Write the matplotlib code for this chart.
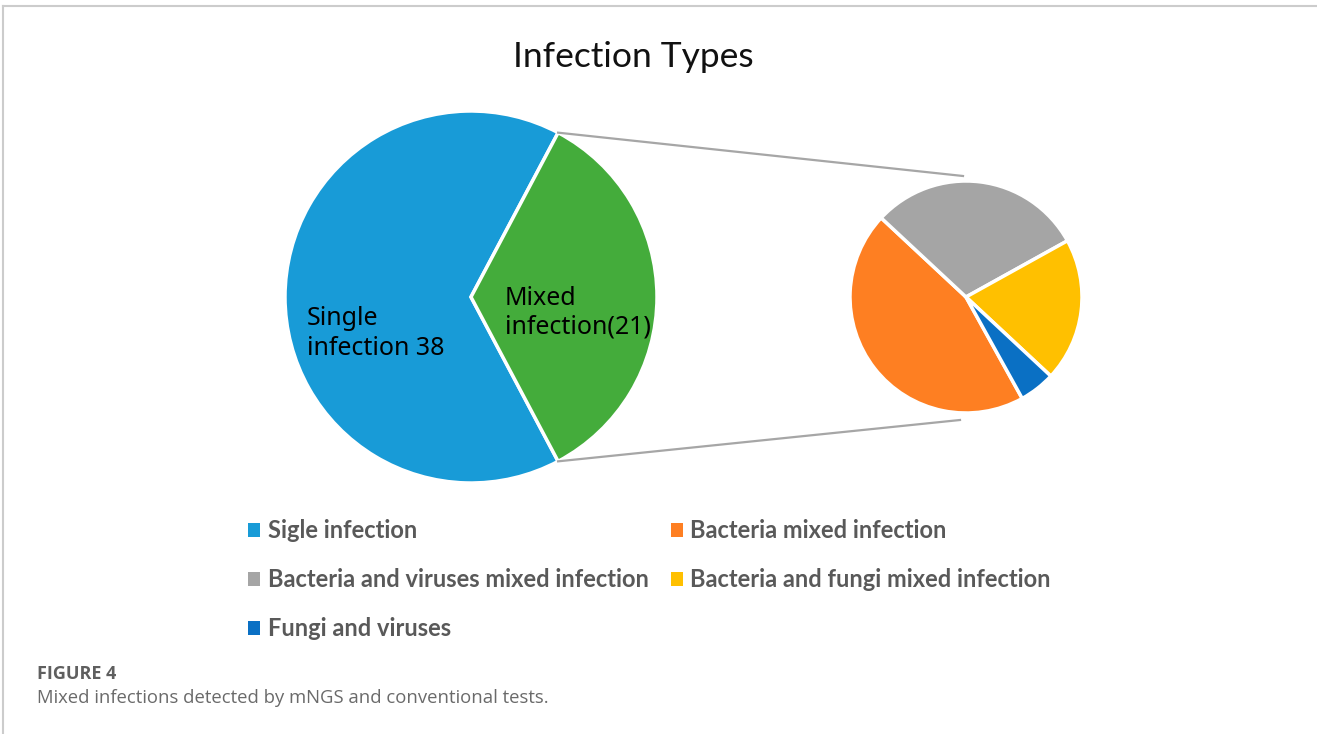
import numpy as np
import matplotlib
matplotlib.use("Agg")
import matplotlib.pyplot as plt
from matplotlib.patches import Patch
from matplotlib.lines import Line2D

# ---- data ----
main_labels = ["Sigle infection", "Mixed infection"]
single_value = 38
sub_labels = ["Bacteria mixed infection", "Bacteria and viruses mixed infection",
              "Bacteria and fungi mixed infection", "Fungi and viruses"]
sub_values = [9, 6, 4, 1]
main_values = [single_value, sum(sub_values)]
pie_texts = [["Single", "infection 38"], ["Mixed", "infection(21)"]]

main_colors = ["#189bd7", "#44ac3b"]
sub_colors = ["#fe7f22", "#a5a5a5", "#ffc000", "#0a70c4"]

W, H = 1317, 734
fig = plt.figure(figsize=(W / 100, H / 100), dpi=100)
ax = fig.add_axes([0, 0, 1, 1])

def Y(y):
    return H - y

# main pie
mcx, mcy, mr = 471, 297, 186
mixed_angle = 360 * main_values[1] / sum(main_values)
ax.pie(main_values, colors=main_colors, startangle=mixed_angle / 2,
       center=(mcx, Y(mcy)), radius=mr,
       wedgeprops=dict(edgecolor="white", linewidth=2.5))

# sub pie
scx, scy, sr = 966, 297, 116
ax.pie(sub_values, colors=sub_colors, startangle=-61, counterclock=False,
       center=(scx, Y(scy)), radius=sr,
       wedgeprops=dict(edgecolor="white", linewidth=2.5))

# connector lines
a = np.deg2rad(mixed_angle / 2)
x0 = mcx + mr * np.cos(a)
ax.add_line(Line2D([x0, scx - 3], [Y(mcy - mr * np.sin(a)), Y(scy - sr - 5)],
                   color="#a6a6a6", lw=1.6))
ax.add_line(Line2D([x0, scx - 6], [Y(mcy + mr * np.sin(a)), Y(scy + sr + 7)],
                   color="#a6a6a6", lw=1.6))

# pie labels
for (x, ys), lines in zip([(307, (325, 355)), (505, (305, 333))], pie_texts):
    for yb, line in zip(ys, lines):
        ax.text(x, Y(yb), line, fontsize=18, family="Noto Sans",
                color="black", va="baseline", ha="left")

# title
ax.text(633, Y(57), "Infection Types", fontsize=25.5, family="Lato",
        color="#111111", ha="center", va="center")

# legend (row-wise order like the reference)
handles = [Patch(facecolor=main_colors[0]), Patch(facecolor=sub_colors[1]),
           Patch(facecolor=sub_colors[3]), Patch(facecolor=sub_colors[0]),
           Patch(facecolor=sub_colors[2])]
labels = [main_labels[0], sub_labels[1], sub_labels[3], sub_labels[0], sub_labels[2]]
leg = ax.legend(handles, labels, ncol=2, loc="upper left",
                bbox_to_anchor=(227 / W, 1 - 498 / H), frameon=False,
                handlelength=0.5, handleheight=0.5, handletextpad=0.32,
                columnspacing=0.95, labelspacing=1.1,
                prop=dict(family="Lato", weight="bold", size=17))
for t in leg.get_texts():
    t.set_color("#595959")

# caption
ax.text(37, Y(674), "FIGURE 4", fontsize=13, family="Open Sans",
        weight="bold", color="#5f5f5f", ha="left", va="center")
ax.text(37, Y(698), "Mixed infections detected by mNGS and conventional tests.",
        fontsize=13.3, family="Open Sans", color="#6a6a6a", ha="left", va="center")

# frame lines
ax.add_line(Line2D([3, W], [Y(6), Y(6)], color="#cccccc", lw=1.5))
ax.add_line(Line2D([3, 3], [Y(6), 0], color="#cccccc", lw=1.5))

ax.set_xlim(0, W)
ax.set_ylim(0, H)
ax.set_aspect("equal")
ax.axis("off")
fig.savefig("out.png", dpi=100)
